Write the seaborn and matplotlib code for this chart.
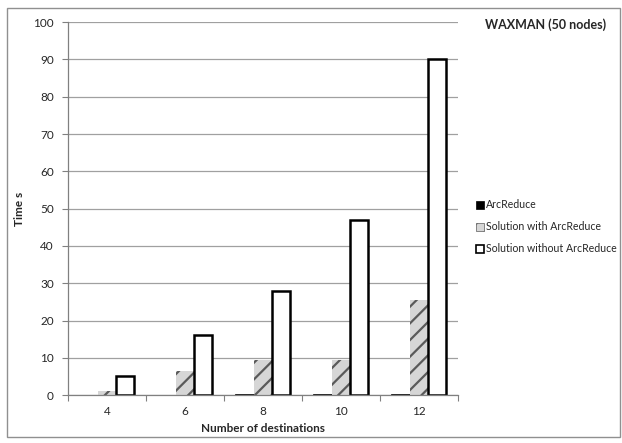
import numpy as np
import pandas as pd
import matplotlib
matplotlib.use("Agg")
import matplotlib.pyplot as plt
import seaborn as sns
from matplotlib.patches import Rectangle

# data
destinations = ["4", "6", "8", "10", "12"]
arc_reduce = [0.1, 0.15, 0.25, 0.3, 0.35]
with_arc = [1.0, 6.5, 9.3, 9.5, 25.5]
without_arc = [5.2, 16.0, 28.0, 47.0, 90.0]
series = ["ArcReduce", "Solution with ArcReduce", "Solution without ArcReduce"]

df = pd.DataFrame({
    "dest": destinations * 3,
    "time": arc_reduce + with_arc + without_arc,
    "series": [series[0]] * 5 + [series[1]] * 5 + [series[2]] * 5,
})

sns.set_style("white")
plt.rcParams["font.family"] = ["Lato", "DejaVu Sans"]
plt.rcParams["hatch.linewidth"] = 1.6

fig = plt.figure(figsize=(6.22, 4.43), dpi=100)
ax = fig.add_axes([0.109, 0.108, 0.627, 0.842])

sns.barplot(data=df, x="dest", y="time", hue="series", order=destinations,
            hue_order=series, width=0.7, ax=ax, legend=False, errorbar=None)

# Styling per series
styles = [
    dict(facecolor="black", edgecolor="black", hatch=None, lw=0.5),
    dict(facecolor="#d6d6d6", edgecolor="#5a5a5a", hatch="//", lw=0),
    dict(facecolor="white", edgecolor="black", hatch=None, lw=1.8),
]
for cont, st in zip(ax.containers, styles):
    for bar in cont:
        bar.set_facecolor(st["facecolor"])
        bar.set_edgecolor(st["edgecolor"])
        bar.set_linewidth(st["lw"])
        if st["hatch"]:
            bar.set_hatch(st["hatch"])

ax.set_ylim(0, 100)
ax.set_xlim(-0.5, 4.5)
ax.set_yticks(np.arange(0, 101, 10))
ax.yaxis.grid(True, color="#a0a0a0", lw=0.9)
ax.set_axisbelow(True)

# excel style x ticks between categories
ax.set_xticks(np.arange(-0.5, 5, 1))
ax.set_xticklabels([])
ax.set_xticks(np.arange(0, 5), minor=True)
ax.set_xticklabels(destinations, minor=True)
ax.tick_params(axis="x", which="major", length=4, color="#808080", direction="out", bottom=True)
ax.tick_params(axis="x", which="minor", length=0, pad=8, labelsize=8.5)
ax.tick_params(axis="y", length=4, color="#808080", direction="out", left=True, labelsize=8.5, pad=6)

for s in ["top", "right"]:
    ax.spines[s].set_visible(False)
for s in ["left", "bottom"]:
    ax.spines[s].set_color("#808080")
    ax.spines[s].set_linewidth(0.9)

ax.set_xlabel("Number of destinations", fontsize=8.5, fontweight="bold", labelpad=4)
ax.set_ylabel("Time s", fontsize=8.5, fontweight="bold")
ax.yaxis.set_label_coords(-0.11, 0.5)

fig.text(0.975, 0.945, "WAXMAN (50 nodes)", ha="right", va="center",
         fontsize=9, fontweight="bold")

handles = [Rectangle((0, 0), 1, 1, facecolor=st["facecolor"], edgecolor="black" if i != 1 else "#5a5a5a",
                     hatch=st["hatch"], lw=1.2 if i == 2 else 0.5) for i, st in enumerate(styles)]
fig.legend(handles, series, loc="center left", bbox_to_anchor=(0.765, 0.488), frameon=False,
           fontsize=7.6, handlelength=0.8, handleheight=0.8, handletextpad=0.2, labelspacing=1.05,
           borderaxespad=0, borderpad=0)

fig.patches.append(Rectangle((0.012, 0.014), 0.985, 0.968, transform=fig.transFigure,
                             fill=False, edgecolor="#909090", lw=1))

fig.savefig("out.png", dpi=100)
